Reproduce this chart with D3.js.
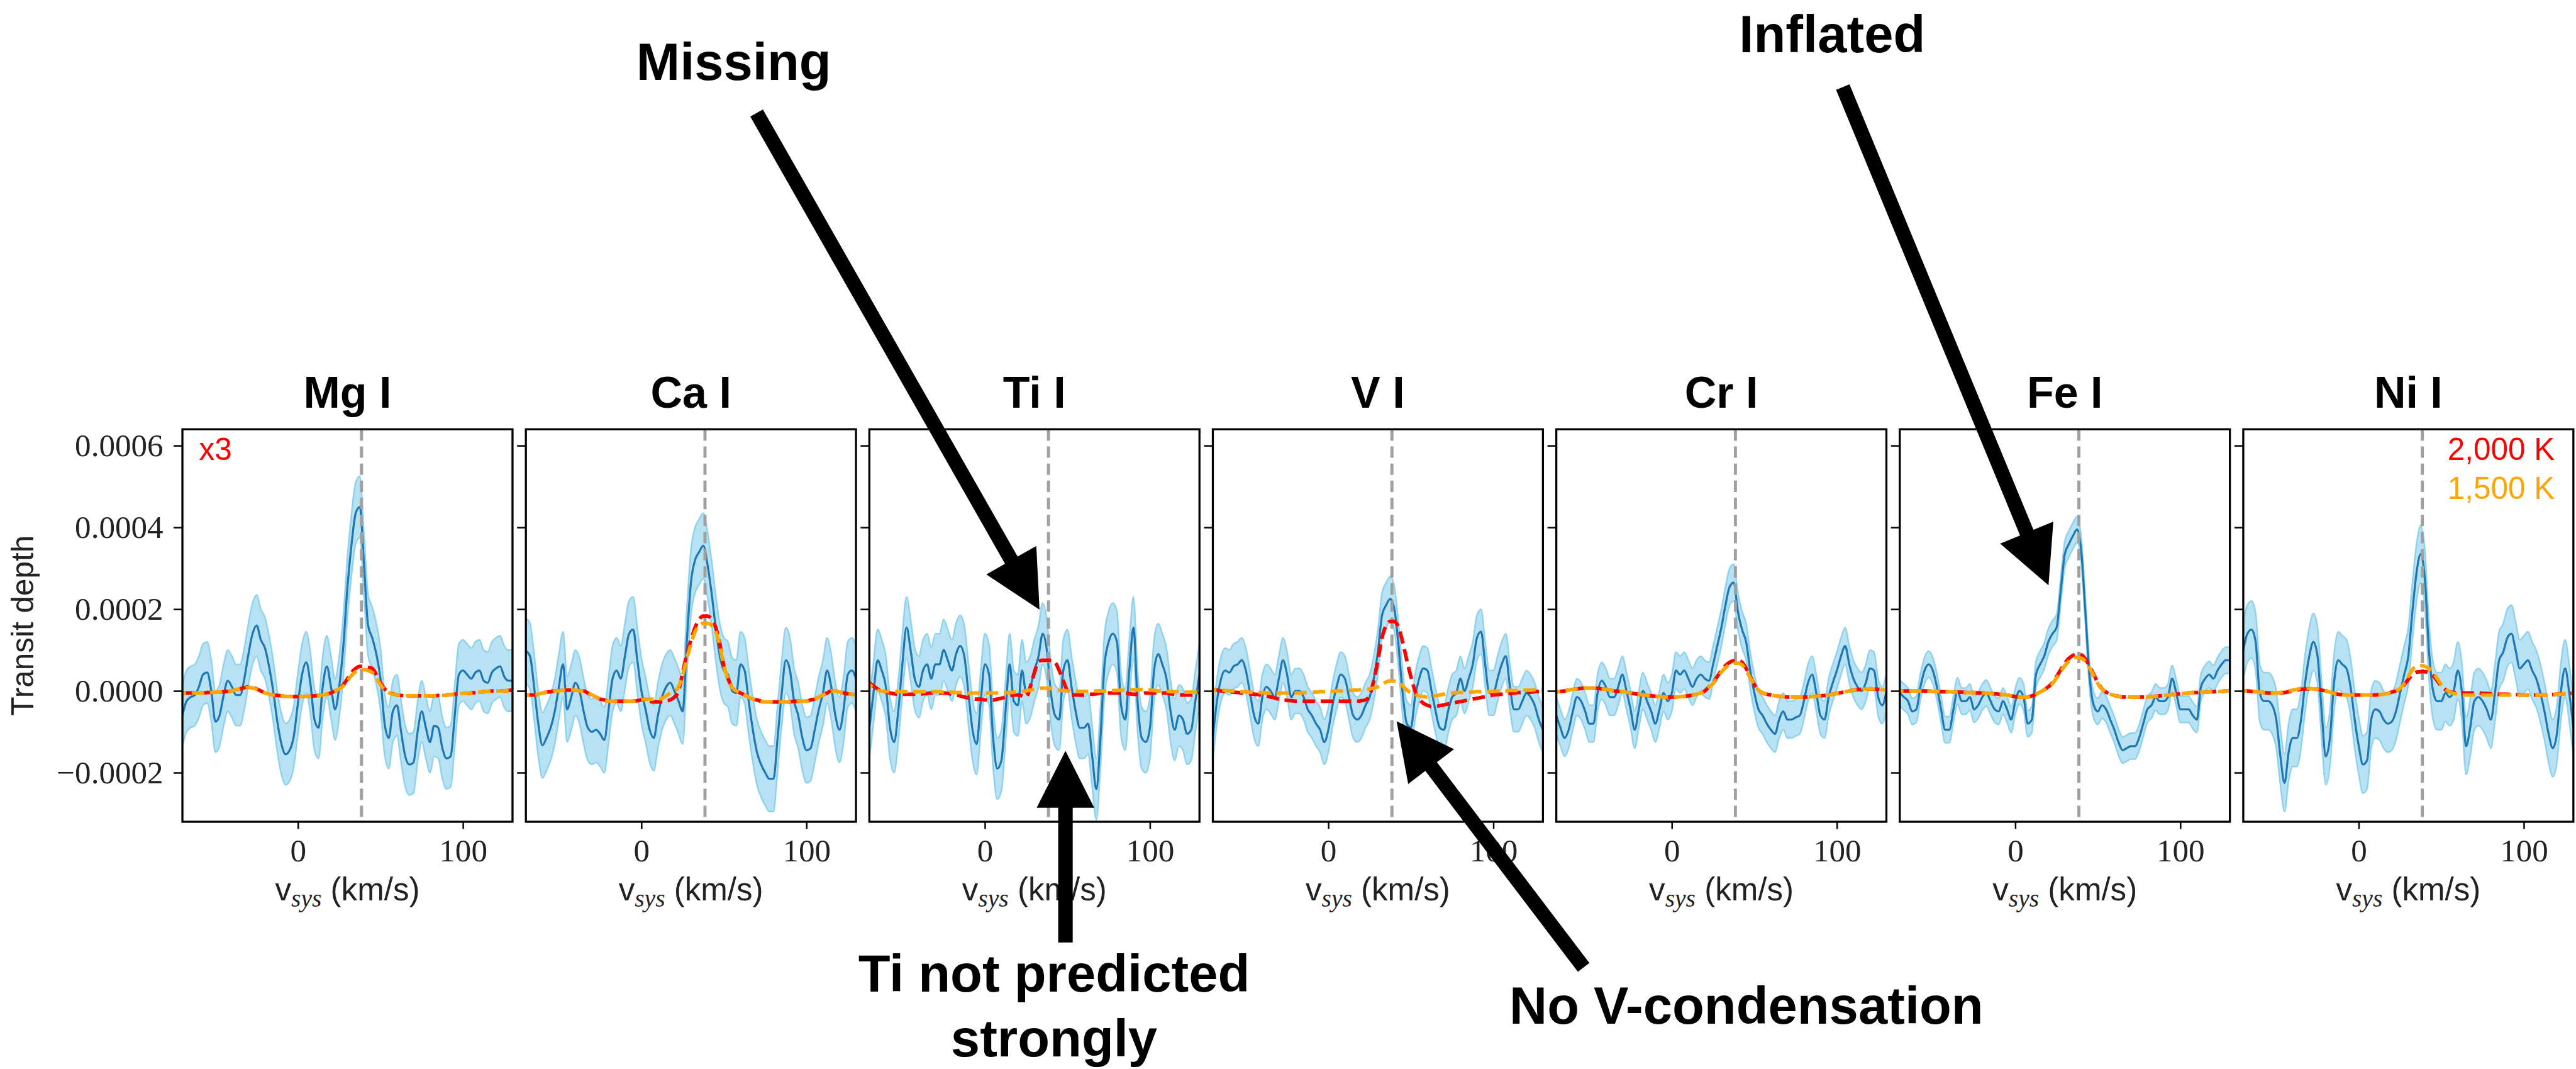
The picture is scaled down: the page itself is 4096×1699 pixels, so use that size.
<!DOCTYPE html>
<html><head><meta charset="utf-8">
<script src="https://cdn.jsdelivr.net/npm/d3@7"></script>
<style>html,body{margin:0;padding:0;background:#fff;overflow:hidden}svg{display:block}</style>
</head><body>
<svg id="chart" width="4096" height="1699"></svg>
<script>
// ---------------- DATA (transit depth in units of 1e-4) ----------------
const elements = ["Mg I", "Ca I", "Ti I", "V I", "Cr I", "Fe I", "Ni I"];
const depthUnit = 1e-4;
const velocityKms = [-70,-67.5,-65,-62.5,-60,-57.5,-55,-52.5,-50,-47.5,-45,-42.5,-40,-37.5,-35,-32.5,-30,-27.5,-25,-22.5,-20,-17.5,-15,-12.5,-10,-7.5,-5,-2.5,0,2.5,5,7.5,10,12.5,15,17.5,20,22.5,25,27.5,30,32.5,35,37.5,40,42.5,45,47.5,50,52.5,55,57.5,60,62.5,65,67.5,70,72.5,75,77.5,80,82.5,85,87.5,90,92.5,95,97.5,100,102.5,105,107.5,110,112.5,115,117.5,120,122.5,125,127.5,130];
const expectedVsys = 38.5;
const xTickValues = [0, 100];
const yTickValues = [-0.0002, 0, 0.0002, 0.0004, 0.0006];
const yTickLabels = ["\u22120.0002", "0.0000", "0.0002", "0.0004", "0.0006"];
const velocityDomain = [-70, 130];
const depthDomain = [-0.00032, 0.00064];
const bandHalfWidth = [0.75, 0.8, 0.75, 0.55, 0.45, 0.32, 0.7];

const meanMg = [-0.6,-0.25,-0.15,-0.1,0.1,0.4,0.45,0.0,-0.75,-0.6,-0.1,0.25,
 0.1,-0.1,-0.1,0.3,0.9,1.4,1.6,1.25,1.05,0.6,0.0,-0.75,
 -1.3,-1.55,-1.45,-1.1,-0.3,0.4,0.7,0.2,-0.7,-0.9,0.1,0.6,
 0.1,-0.45,0.1,1.1,2.55,3.6,4.35,4.5,3.1,1.6,1.3,0.9,
 0.3,-0.8,-1.15,-0.5,-0.35,-1.0,-1.6,-1.8,-1.75,-1.0,-0.5,-0.9,
 -1.25,-0.85,-0.9,-1.4,-1.65,-1.6,-0.6,0.4,0.5,0.4,0.3,0.45,
 0.5,0.25,0.2,0.45,0.55,0.6,0.35,0.25,0.25];
const meanCa = [0.98,0.85,0.1,-0.8,-1.33,-1.15,-0.9,-0.5,0.1,0.65,-0.45,-0.15,
 0.2,0.0,-0.5,-0.9,-1.0,-0.95,-1.05,-1.2,-0.5,0.3,0.5,0.3,
 0.85,1.4,1.5,0.75,0.0,-0.45,-0.95,-1.15,-0.6,-0.15,0.1,0.2,
 0.0,-0.25,-0.5,1.2,2.65,3.2,3.4,3.55,3.1,2.4,1.55,0.85,
 0.5,0.4,0.0,-0.05,0.65,0.5,-0.25,-0.95,-1.5,-1.8,-2.0,-2.15,
 -2.15,-1.15,-0.05,0.75,0.5,-0.25,-0.6,-1.15,-1.45,-1.4,-0.95,-0.45,
 -0.05,0.5,0.1,-0.6,-0.95,-0.45,0.4,0.5,0.3];
const meanTi = [-0.9,-0.05,0.75,0.5,0.1,-0.9,-1.25,-0.5,0.65,1.55,1.0,0.3,
 0.1,0.5,0.65,0.3,0.65,0.65,1.0,0.75,0.5,0.9,1.1,0.85,
 -0.05,-0.95,-1.3,-0.25,0.65,0.4,-1.15,-1.9,-1.7,-0.5,0.65,-0.25,
 -0.35,0.5,-0.05,0.1,0.5,0.85,1.4,1.0,-0.05,-0.6,-0.7,0.5,
 0.75,0.1,-0.5,-0.9,-0.9,-0.8,-1.6,-2.4,-1.15,0.65,1.2,1.4,
 1.2,-0.35,-0.7,0.5,1.55,-0.25,-1.15,-1.25,-0.9,0.5,0.9,0.65,
 0.3,-0.5,-0.95,-0.6,-0.7,-1.05,-0.95,-0.25,0.4];
const meanV = [-1.15,-0.25,0.3,0.5,0.45,0.6,0.65,0.75,0.5,-0.05,-0.6,-0.8,
 -0.15,0.1,0.0,-0.15,0.3,0.75,0.4,-0.15,0.0,0.0,-0.15,-0.45,
 -0.6,-0.8,-0.95,-1.25,-0.95,-0.35,0.1,0.4,0.3,-0.15,-0.6,-0.7,
 -0.6,-0.35,-0.15,0.3,0.95,1.85,2.1,2.25,2.0,1.1,-0.05,-0.8,
 -0.9,-0.15,0.3,0.55,0.5,0.0,-0.5,-0.9,-0.95,-0.5,-0.15,-0.05,
 0.3,0.0,0.3,0.65,1.3,1.45,0.65,-0.05,-0.05,0.3,0.65,0.85,
 0.1,-0.45,-0.45,-0.25,-0.05,-0.15,-0.35,-0.7,-0.95];
const meanCr = [-0.6,-0.9,-1.15,-0.95,-0.5,-0.15,-0.25,-0.5,-0.8,-0.8,-0.05,0.25,
 0.1,-0.15,-0.15,0.1,0.4,0.0,-0.45,-0.95,-0.45,0.0,-0.25,-0.5,
 -0.8,-0.45,-0.05,-0.25,-0.05,0.5,0.4,0.5,0.3,0.1,0.3,0.4,
 0.3,0.25,0.65,1.1,1.55,2.1,2.55,2.65,1.95,1.5,1.2,0.5,
 -0.05,-0.45,-0.6,-0.8,-0.95,-1.05,-0.7,-0.5,-0.7,-0.7,-0.65,-0.6,
 -0.25,0.2,0.4,-0.05,-0.6,-0.7,-0.15,0.2,0.5,0.85,1.1,0.65,
 0.3,0.1,0.0,0.2,0.55,0.5,-0.15,-0.35,0.0];
const meanFe = [-0.05,-0.15,-0.25,-0.5,-0.45,0.1,0.5,0.65,0.5,0.1,-0.45,-0.95,
 -0.95,-0.45,0.0,-0.25,-0.25,-0.15,-0.45,-0.35,-0.15,-0.05,-0.25,-0.45,
 -0.5,-0.25,-0.45,-0.7,-0.25,0.0,-0.15,-0.8,-0.7,0.4,0.65,0.85,
 1.2,1.4,1.55,2.45,3.35,3.6,3.8,3.95,3.4,1.9,0.35,-0.35,
 -0.5,-0.35,-0.45,-0.7,-0.95,-1.25,-1.45,-1.4,-1.35,-1.35,-1.15,-0.8,
 -0.45,-0.35,-0.15,-0.25,-0.25,-0.15,0.3,-0.05,-0.45,-0.45,-0.45,-0.6,
 -0.7,0.1,0.3,0.4,0.3,0.5,0.65,0.75,0.75];
const meanNi = [1.0,1.4,1.5,1.2,-0.05,-0.25,-0.25,-0.35,-0.7,-1.6,-2.25,-1.5,
 -1.15,-1.15,-0.7,0.2,0.85,1.2,0.85,-0.5,-1.6,-1.15,0.2,0.75,
 0.65,0.55,0.1,-0.7,-1.35,-1.8,-1.7,-0.7,-0.45,-0.5,-0.7,-0.8,
 -0.75,-0.5,-0.05,0.4,0.85,1.95,2.9,3.35,2.75,1.0,0.0,-0.25,
 -0.25,-0.05,-0.15,0.0,0.5,-0.05,-1.35,-0.9,-0.25,-0.15,-0.25,-0.45,
 -0.7,-0.05,0.75,0.95,1.3,1.4,1.0,0.55,0.65,0.75,0.5,0.3,
 -0.05,-0.5,-1.05,-1.4,-1.05,0.0,0.55,-0.05,-0.9];

// 2,000 K model (red)
const hotMg = [-0.05,-0.05,-0.05,-0.05,-0.05,-0.05,-0.04,-0.04,-0.03,-0.03,-0.02,-0.01,
 0.0,0.03,0.05,0.08,0.1,0.08,0.05,0.0,-0.05,-0.08,-0.1,-0.11,
 -0.12,-0.13,-0.14,-0.14,-0.14,-0.14,-0.13,-0.13,-0.12,-0.11,-0.1,-0.08,
 -0.05,0.0,0.05,0.15,0.3,0.45,0.55,0.6,0.6,0.58,0.55,0.4,
 0.2,0.05,-0.03,-0.07,-0.1,-0.11,-0.12,-0.12,-0.12,-0.12,-0.12,-0.12,
 -0.12,-0.12,-0.11,-0.11,-0.1,-0.09,-0.08,-0.07,-0.06,-0.06,-0.05,-0.04,
 -0.03,-0.02,-0.01,0.0,0.0,0.0,0.0,0.01,0.02];
const hotCa = [-0.1,-0.1,-0.1,-0.08,-0.05,-0.03,-0.02,0.0,0.0,0.02,0.02,0.02,
 0.02,0.0,0.0,-0.05,-0.1,-0.15,-0.2,-0.22,-0.25,-0.25,-0.25,-0.25,
 -0.25,-0.25,-0.25,-0.24,-0.22,-0.23,-0.25,-0.27,-0.27,-0.27,-0.25,-0.22,
 -0.15,0.0,0.45,0.9,1.25,1.55,1.75,1.83,1.83,1.75,1.55,1.15,
 0.6,0.3,0.08,0.0,-0.05,-0.1,-0.15,-0.2,-0.22,-0.25,-0.27,-0.27,
 -0.27,-0.27,-0.27,-0.27,-0.27,-0.25,-0.25,-0.25,-0.25,-0.22,-0.2,-0.15,
 -0.1,-0.05,0.0,0.0,-0.03,-0.05,-0.07,-0.08,-0.1];
const hotTi = [0.2,0.12,0.05,0.0,-0.03,-0.05,-0.07,-0.08,-0.08,-0.08,-0.08,-0.08,
 -0.08,-0.07,-0.06,-0.05,-0.05,-0.05,-0.05,-0.06,-0.08,-0.1,-0.12,-0.15,
 -0.17,-0.18,-0.2,-0.2,-0.22,-0.22,-0.22,-0.2,-0.18,-0.15,-0.12,-0.1,
 -0.1,-0.12,-0.15,0.1,0.45,0.72,0.75,0.75,0.75,0.7,0.5,0.25,
 0.0,-0.1,-0.1,-0.1,-0.1,-0.08,-0.08,-0.07,-0.05,-0.05,-0.05,-0.05,
 -0.05,-0.05,-0.05,-0.07,-0.08,-0.08,-0.07,-0.05,-0.05,-0.05,-0.05,-0.05,
 -0.05,-0.07,-0.08,-0.1,-0.1,-0.1,-0.1,-0.08,-0.05];
const hotV = [0.03,0.02,0.0,-0.01,-0.02,-0.03,-0.04,-0.05,-0.06,-0.07,-0.08,-0.09,
 -0.1,-0.12,-0.15,-0.17,-0.2,-0.22,-0.23,-0.24,-0.25,-0.25,-0.25,-0.25,
 -0.25,-0.25,-0.25,-0.25,-0.25,-0.25,-0.25,-0.25,-0.25,-0.25,-0.25,-0.25,
 -0.24,-0.22,-0.1,0.25,0.75,1.3,1.6,1.7,1.7,1.55,1.2,0.75,
 0.35,0.0,-0.2,-0.3,-0.35,-0.38,-0.38,-0.36,-0.34,-0.32,-0.3,-0.28,
 -0.26,-0.24,-0.22,-0.2,-0.18,-0.16,-0.14,-0.12,-0.1,-0.09,-0.08,-0.07,
 -0.06,-0.05,-0.04,-0.04,-0.03,-0.03,-0.02,-0.01,0.0];
const hotCr = [-0.02,-0.01,0.0,0.02,0.04,0.05,0.06,0.07,0.07,0.07,0.06,0.05,
 0.04,0.02,0.0,-0.01,-0.02,-0.03,-0.05,-0.07,-0.08,-0.1,-0.11,-0.12,
 -0.13,-0.14,-0.15,-0.15,-0.15,-0.15,-0.14,-0.13,-0.12,-0.1,-0.08,-0.05,
 0.0,0.1,0.2,0.35,0.5,0.62,0.7,0.74,0.75,0.7,0.55,0.35,
 0.15,0.02,-0.05,-0.08,-0.1,-0.12,-0.13,-0.14,-0.15,-0.15,-0.15,-0.15,
 -0.15,-0.15,-0.14,-0.13,-0.12,-0.11,-0.1,-0.08,-0.06,-0.04,-0.02,0.0,
 0.02,0.03,0.04,0.05,0.05,0.05,0.04,0.03,0.02];
const hotFe = [0.0,0.0,0.0,0.0,0.0,0.0,0.0,0.0,-0.01,-0.01,-0.02,-0.02,
 -0.02,-0.03,-0.03,-0.03,-0.04,-0.04,-0.04,-0.05,-0.05,-0.05,-0.06,-0.07,
 -0.08,-0.09,-0.1,-0.12,-0.14,-0.15,-0.15,-0.15,-0.12,-0.08,-0.03,0.03,
 0.1,0.2,0.35,0.52,0.68,0.8,0.87,0.9,0.88,0.78,0.6,0.4,
 0.2,0.05,-0.03,-0.08,-0.11,-0.13,-0.15,-0.15,-0.15,-0.15,-0.15,-0.15,
 -0.15,-0.14,-0.13,-0.12,-0.11,-0.1,-0.09,-0.08,-0.07,-0.06,-0.05,-0.04,
 -0.04,-0.03,-0.03,-0.02,-0.02,-0.01,-0.01,0.0,0.0];
const hotNi = [0.0,0.0,-0.01,-0.02,-0.03,-0.04,-0.05,-0.05,-0.05,-0.05,-0.04,-0.02,
 0.0,0.02,0.04,0.05,0.05,0.05,0.04,0.02,0.0,-0.03,-0.06,-0.08,
 -0.09,-0.1,-0.1,-0.1,-0.1,-0.1,-0.1,-0.1,-0.1,-0.09,-0.08,-0.06,
 -0.03,0.0,0.05,0.15,0.28,0.4,0.46,0.47,0.47,0.45,0.38,0.25,
 0.12,0.03,-0.02,-0.04,-0.05,-0.05,-0.05,-0.05,-0.05,-0.05,-0.06,-0.06,
 -0.07,-0.07,-0.08,-0.08,-0.08,-0.09,-0.09,-0.09,-0.1,-0.1,-0.1,-0.1,
 -0.1,-0.1,-0.1,-0.09,-0.08,-0.08,-0.07,-0.06,-0.05];

// 1,500 K model (orange)
const coolMg = [-0.05,-0.05,-0.05,-0.05,-0.05,-0.05,-0.04,-0.04,-0.03,-0.03,-0.02,-0.01,
 0.0,0.03,0.05,0.07,0.09,0.07,0.04,0.0,-0.05,-0.08,-0.1,-0.11,
 -0.12,-0.13,-0.14,-0.14,-0.14,-0.14,-0.13,-0.13,-0.12,-0.11,-0.1,-0.08,
 -0.05,0.0,0.05,0.12,0.25,0.38,0.47,0.5,0.52,0.5,0.45,0.32,
 0.15,0.03,-0.04,-0.08,-0.1,-0.11,-0.12,-0.12,-0.12,-0.12,-0.12,-0.12,
 -0.12,-0.12,-0.11,-0.11,-0.1,-0.09,-0.08,-0.07,-0.06,-0.06,-0.05,-0.04,
 -0.03,-0.02,-0.01,0.0,0.0,0.0,0.0,0.01,0.02];
const coolCa = [-0.1,-0.1,-0.1,-0.08,-0.05,-0.03,-0.02,0.0,0.0,0.02,0.02,0.02,
 0.02,0.0,0.0,-0.05,-0.1,-0.15,-0.2,-0.22,-0.25,-0.25,-0.25,-0.25,
 -0.25,-0.25,-0.25,-0.24,-0.22,-0.2,-0.2,-0.2,-0.2,-0.18,-0.12,-0.05,
 0.0,0.1,0.4,0.8,1.15,1.45,1.6,1.65,1.65,1.6,1.45,1.1,
 0.6,0.3,0.08,0.0,-0.05,-0.1,-0.15,-0.2,-0.22,-0.25,-0.27,-0.27,
 -0.27,-0.27,-0.27,-0.27,-0.27,-0.25,-0.25,-0.25,-0.25,-0.22,-0.2,-0.15,
 -0.1,-0.05,0.0,0.0,-0.03,-0.05,-0.07,-0.08,-0.1];
const coolTi = [0.15,0.08,0.02,0.0,-0.02,-0.02,-0.02,-0.02,-0.02,-0.02,-0.02,-0.02,
 -0.02,-0.02,-0.02,-0.02,-0.02,-0.02,-0.03,-0.03,-0.03,-0.04,-0.04,-0.04,
 -0.05,-0.05,-0.05,-0.05,-0.05,-0.05,-0.05,-0.05,-0.05,-0.04,-0.04,-0.03,
 -0.02,-0.01,0.0,0.02,0.04,0.06,0.07,0.07,0.06,0.04,0.02,0.01,
 0.0,0.0,-0.01,-0.01,-0.01,-0.01,-0.01,0.0,0.0,0.0,0.0,0.01,
 0.01,0.02,0.02,0.03,0.03,0.03,0.03,0.02,0.02,0.01,0.0,0.0,
 -0.01,-0.01,-0.02,-0.02,-0.03,-0.03,-0.03,-0.03,-0.03];
const coolV = [0.03,0.02,0.02,0.01,0.0,0.0,-0.01,-0.02,-0.02,-0.03,-0.03,-0.04,
 -0.04,-0.05,-0.05,-0.05,-0.05,-0.05,-0.05,-0.05,-0.05,-0.05,-0.04,-0.04,
 -0.03,-0.03,-0.02,-0.02,-0.01,-0.01,0.0,0.0,0.01,0.01,0.02,0.02,
 0.03,0.04,0.05,0.07,0.1,0.16,0.22,0.25,0.24,0.2,0.12,0.02,
 -0.04,-0.08,-0.12,-0.14,-0.15,-0.14,-0.12,-0.1,-0.08,-0.06,-0.05,-0.04,
 -0.04,-0.03,-0.03,-0.03,-0.02,-0.02,-0.02,-0.01,-0.01,0.0,0.0,0.0,
 0.01,0.01,0.01,0.02,0.02,0.02,0.03,0.03,0.03];
const coolCr = [-0.02,-0.01,0.0,0.02,0.04,0.05,0.06,0.07,0.07,0.07,0.06,0.05,
 0.04,0.02,0.0,-0.01,-0.02,-0.03,-0.05,-0.07,-0.08,-0.1,-0.11,-0.12,
 -0.13,-0.14,-0.15,-0.15,-0.15,-0.15,-0.14,-0.13,-0.12,-0.1,-0.08,-0.05,
 0.0,0.09,0.18,0.32,0.46,0.57,0.64,0.67,0.68,0.64,0.5,0.32,
 0.14,0.02,-0.05,-0.08,-0.1,-0.12,-0.13,-0.14,-0.15,-0.15,-0.15,-0.15,
 -0.15,-0.15,-0.14,-0.13,-0.12,-0.11,-0.1,-0.08,-0.06,-0.04,-0.02,0.0,
 0.02,0.03,0.04,0.05,0.05,0.05,0.04,0.03,0.02];
const coolFe = [0.0,0.0,0.0,0.0,0.0,0.0,0.0,0.0,-0.01,-0.01,-0.02,-0.02,
 -0.02,-0.03,-0.03,-0.03,-0.04,-0.04,-0.04,-0.05,-0.05,-0.05,-0.06,-0.07,
 -0.08,-0.09,-0.1,-0.12,-0.14,-0.15,-0.15,-0.15,-0.12,-0.08,-0.03,0.03,
 0.1,0.18,0.32,0.48,0.62,0.73,0.8,0.82,0.8,0.72,0.56,0.37,
 0.18,0.04,-0.03,-0.08,-0.11,-0.13,-0.15,-0.15,-0.15,-0.15,-0.15,-0.15,
 -0.15,-0.14,-0.13,-0.12,-0.11,-0.1,-0.09,-0.08,-0.07,-0.06,-0.05,-0.04,
 -0.04,-0.03,-0.03,-0.02,-0.02,-0.01,-0.01,0.0,0.0];
const coolNi = [0.0,0.0,-0.01,-0.02,-0.03,-0.04,-0.05,-0.05,-0.05,-0.04,-0.02,0.0,
 0.02,0.04,0.06,0.06,0.06,0.05,0.04,0.02,0.0,-0.03,-0.06,-0.08,
 -0.09,-0.1,-0.1,-0.1,-0.1,-0.1,-0.1,-0.1,-0.1,-0.09,-0.08,-0.06,
 -0.03,0.0,0.06,0.18,0.35,0.52,0.6,0.62,0.6,0.55,0.45,0.3,
 0.15,0.05,-0.02,-0.06,-0.08,-0.1,-0.1,-0.1,-0.1,-0.1,-0.1,-0.1,
 -0.1,-0.1,-0.1,-0.1,-0.1,-0.1,-0.1,-0.1,-0.1,-0.1,-0.1,-0.1,
 -0.1,-0.1,-0.1,-0.09,-0.08,-0.08,-0.07,-0.06,-0.05];

const meanSeries = [meanMg, meanCa, meanTi, meanV, meanCr, meanFe, meanNi];
const hotSeries = [hotMg, hotCa, hotTi, hotV, hotCr, hotFe, hotNi];
const coolSeries = [coolMg, coolCa, coolTi, coolV, coolCr, coolFe, coolNi];
const legendLabels = ["2,000 K", "1,500 K"];
const scaleNote = "x3";

// ---------------- LAYOUT (reference pixels, scaled by 0.824) ----------------
const SCALE = 0.824;
const L = {left0: 352, pitch: 662.8, w: 637, top: 828, bottom: 1585};
const H = L.bottom - L.top;
const COLORS = {mean: "#1f77b4", band: "#87ceeb", hot: "#ff0000", cool: "#ffa500", vline: "#a0a0a0"};
const SANS = "'Liberation Sans', Arial, Helvetica, sans-serif";
const SERIF = "'Liberation Serif', 'Times New Roman', serif";

const svg = d3.select("#chart");
svg.append("rect").attr("width", 4096).attr("height", 1699).attr("fill", "#fff");
const root = svg.append("g").attr("transform", `scale(${SCALE})`);

const x = d3.scaleLinear().domain(velocityDomain).range([0, L.w]);
const y = d3.scaleLinear().domain(depthDomain).range([H, 0]);

const lineGen = arr => d3.line()
  .x((d, j) => x(velocityKms[j]))
  .y(d => y(d * depthUnit))
  .curve(d3.curveMonotoneX)(arr);

elements.forEach((name, i) => {
  const g = root.append("g").attr("transform", `translate(${L.left0 + i * L.pitch},${L.top})`);
  const clipId = "clip" + i;
  g.append("clipPath").attr("id", clipId).append("rect").attr("width", L.w).attr("height", H);
  const plot = g.append("g").attr("clip-path", `url(#${clipId})`);
  const mean = meanSeries[i], s = bandHalfWidth[i];

  const area = d3.area()
    .x((d, j) => x(velocityKms[j]))
    .y0(d => y((d - s) * depthUnit))
    .y1(d => y((d + s) * depthUnit))
    .curve(d3.curveMonotoneX);
  plot.append("path").attr("d", area(mean)).attr("fill", COLORS.band).attr("fill-opacity", 0.6)
    .attr("stroke", COLORS.band).attr("stroke-width", 3).attr("stroke-opacity", 0.9);
  plot.append("path").attr("d", lineGen(mean)).attr("fill", "none").attr("stroke", COLORS.mean).attr("stroke-width", 4);

  plot.append("line").attr("x1", x(expectedVsys)).attr("x2", x(expectedVsys)).attr("y1", 0).attr("y2", H)
    .attr("stroke", COLORS.vline).attr("stroke-width", 6).attr("stroke-dasharray", "22,11");

  plot.append("path").attr("d", lineGen(hotSeries[i])).attr("fill", "none").attr("stroke", COLORS.hot)
    .attr("stroke-width", 7).attr("stroke-dasharray", "24,11");
  plot.append("path").attr("d", lineGen(coolSeries[i])).attr("fill", "none").attr("stroke", COLORS.cool)
    .attr("stroke-width", 7).attr("stroke-dasharray", "24,11").attr("stroke-dashoffset", 17);

  // axes
  const xa = g.append("g").attr("transform", `translate(0,${H})`)
    .call(d3.axisBottom(x).tickValues(xTickValues).tickSize(14).tickPadding(19).tickFormat(d3.format("d")));
  const ya = g.append("g")
    .call(d3.axisLeft(y).tickValues(yTickValues).tickSize(17).tickPadding(20)
      .tickFormat((d, k) => i === 0 ? yTickLabels[k] : ""));
  [xa, ya].forEach(a => {
    a.select(".domain").remove();
    a.selectAll(".tick line").attr("stroke", "#000").attr("stroke-width", 3);
    a.selectAll(".tick text").attr("fill", "#222").style("font-family", SERIF).style("font-size", "62px");
  });

  g.append("rect").attr("width", L.w).attr("height", H).attr("fill", "none").attr("stroke", "#000").attr("stroke-width", 4);

  // title
  g.append("text").attr("x", L.w / 2).attr("y", 786 - L.top).attr("text-anchor", "middle")
    .style("font-family", SANS).style("font-weight", "bold").style("font-size", "85px").text(name);

  // x label
  const xl = g.append("text").attr("x", L.w / 2).attr("y", 1737 - L.top).attr("text-anchor", "middle")
    .attr("fill", "#222").style("font-family", SANS).style("font-size", "62px");
  xl.append("tspan").text("v");
  xl.append("tspan").attr("dy", 12).style("font-family", SERIF).style("font-style", "italic").style("font-size", "48px").text("sys");
  xl.append("tspan").attr("dy", -12).text(" (km/s)");

  if (i === 0) {
    g.append("text").attr("transform", `translate(${64 - L.left0},${H / 2}) rotate(-90)`).attr("text-anchor", "middle")
      .attr("fill", "#222").style("font-family", SANS).style("font-size", "60px").text("Transit depth");
    g.append("text").attr("x", 32).attr("y", 887 - L.top).attr("fill", COLORS.hot)
      .style("font-family", SANS).style("font-size", "60px").text(scaleNote);
  }
  if (i === elements.length - 1) {
    g.append("text").attr("x", L.w - 36).attr("y", 887 - L.top).attr("text-anchor", "end").attr("fill", COLORS.hot)
      .style("font-family", SANS).style("font-size", "60px").text(legendLabels[0]);
    g.append("text").attr("x", L.w - 36).attr("y", 962 - L.top).attr("text-anchor", "end").attr("fill", COLORS.cool)
      .style("font-family", SANS).style("font-size", "60px").text(legendLabels[1]);
  }
});

// ---------------- ANNOTATIONS ----------------
const annoFont = {family: SANS, size: 101};
function arrowPath(tail, tip, shaftW = 28, headW = 111, headL = 110) {
  const dx = tip[0] - tail[0], dy = tip[1] - tail[1];
  const len = Math.hypot(dx, dy), ux = dx / len, uy = dy / len, nx = -uy, ny = ux;
  const bx = tip[0] - ux * headL, by = tip[1] - uy * headL;
  const p = [
    [tail[0] + nx * shaftW / 2, tail[1] + ny * shaftW / 2],
    [bx + nx * shaftW / 2, by + ny * shaftW / 2],
    [bx + nx * headW / 2, by + ny * headW / 2],
    tip,
    [bx - nx * headW / 2, by - ny * headW / 2],
    [bx - nx * shaftW / 2, by - ny * shaftW / 2],
    [tail[0] - nx * shaftW / 2, tail[1] - ny * shaftW / 2]
  ];
  return "M" + p.map(q => q.join(",")).join("L") + "Z";
}
const arrows = [
  {tail: [1460, 218], tip: [2006, 1176]},
  {tail: [3556, 168], tip: [3953, 1129]},
  {tail: [2056, 1818], tip: [2056, 1448]},
  {tail: [3056, 1866], tip: [2695, 1391]}
];
const anno = root.append("g");
arrows.forEach(a => anno.append("path").attr("d", arrowPath(a.tail, a.tip)).attr("fill", "#000"));

const labels = [
  {text: "Missing", x: 1228, y: 154, anchor: "start"},
  {text: "Inflated", x: 3356, y: 101, anchor: "start"},
  {text: "Ti not predicted", x: 2034, y: 1913, anchor: "middle"},
  {text: "strongly", x: 2034, y: 2038, anchor: "middle"},
  {text: "No V-condensation", x: 3370, y: 1975, anchor: "middle"}
];
labels.forEach(l => anno.append("text").attr("x", l.x).attr("y", l.y).attr("text-anchor", l.anchor)
  .style("font-family", annoFont.family).style("font-weight", "bold").style("font-size", annoFont.size + "px").text(l.text));
</script>
</body></html>
